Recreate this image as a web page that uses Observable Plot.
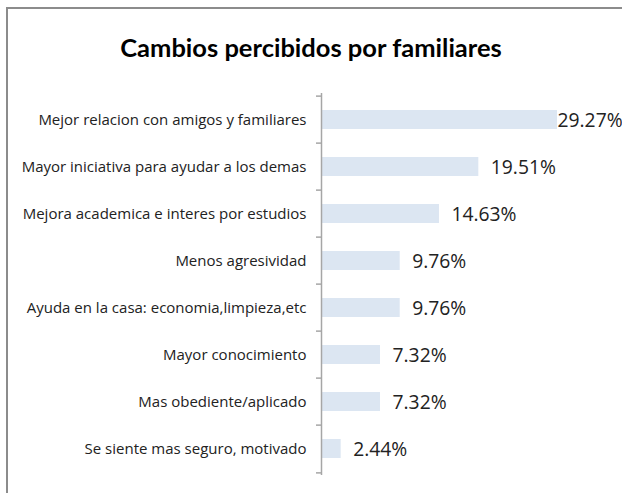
<!DOCTYPE html>
<html>
<head>
<meta charset="utf-8">
<script src="https://cdn.jsdelivr.net/npm/d3@7"></script>
<script src="https://cdn.jsdelivr.net/npm/@observablehq/plot@0.6"></script>
<style>
  html, body { margin: 0; padding: 0; background: #fff; overflow: hidden; }
  #frame { position: absolute; left: 6px; top: 7px; width: 700px; height: 600px; border: 2px solid #8c8c8c; box-sizing: border-box; }
  #title { position: absolute; left: 0; top: 32px; width: 622px; text-align: center; font-family: Lato, "Open Sans", sans-serif; font-weight: bold; font-size: 25.5px; color: #000; }
  #chart { position: absolute; left: 0; top: 0; }
</style>
</head>
<body>
<div id="frame"></div>
<div id="title">Cambios percibidos por familiares</div>
<div id="chart"></div>
<script>
const categories = [
  "Mejor relacion con amigos y familiares",
  "Mayor iniciativa para ayudar a los demas",
  "Mejora academica e interes por estudios",
  "Menos agresividad",
  "Ayuda en la casa: economia,limpieza,etc",
  "Mayor conocimiento",
  "Mas obediente/aplicado",
  "Se siente mas seguro, motivado"
];
const values = [29.27, 19.51, 14.63, 9.76, 9.76, 7.32, 7.32, 2.44];
const labels = ["29.27%", "19.51%", "14.63%", "9.76%", "9.76%", "7.32%", "7.32%", "2.44%"];

const data = categories.map((c, i) => ({cat: c, value: values[i], label: labels[i], top: i === 0}));
const H = 493, mt = 93, mb = 18;
const band = (H - mt - mb) / categories.length;

const plot = Plot.plot({
  width: 622,
  height: H,
  marginLeft: 321,
  marginRight: 65,
  marginTop: mt,
  marginBottom: mb,
  style: {fontFamily: "'Open Sans', sans-serif", background: "transparent"},
  x: {domain: [0, 29.27], axis: null},
  y: {domain: categories, padding: 0, axis: null},
  marks: [
    Plot.barX(data, {y: "cat", x: "value", fill: "#dce6f2", insetTop: 14, insetBottom: 14}),
    Plot.ruleX([0], {stroke: "#a6a6a6", strokeWidth: 1.5}),
    Plot.ruleY(data, {y: "cat", x1: 0, x2: 0, insetLeft: -5, dy: -band / 2, stroke: "#a6a6a6", strokeWidth: 1.5}),
    Plot.ruleY(data.slice(-1), {y: "cat", x1: 0, x2: 0, insetLeft: -5, dy: band / 2, stroke: "#a6a6a6", strokeWidth: 1.5}),
    Plot.text(data, {y: "cat", x: 0, text: "cat", textAnchor: "end", dx: -15, fontSize: 15, fill: "#222"}),
    Plot.text(data.filter(d => d.top), {y: "cat", x: "value", text: "label", textAnchor: "start", dx: 0, dy: 1, fontSize: 19.3, fill: "#222"}),
    Plot.text(data.filter(d => !d.top), {y: "cat", x: "value", text: "label", textAnchor: "start", dx: 12, dy: 1, fontSize: 19.3, fill: "#222"})
  ]
});
document.getElementById("chart").appendChild(plot);
</script>
</body>
</html>
